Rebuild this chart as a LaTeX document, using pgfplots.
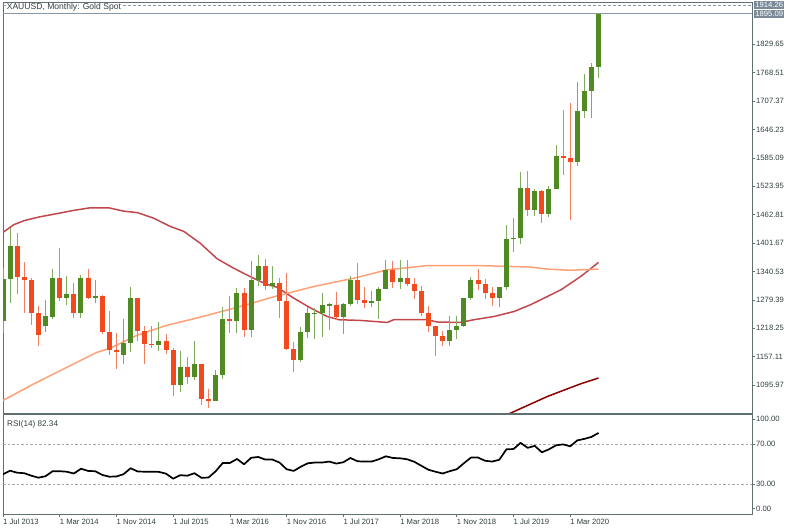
\documentclass[border=0pt]{standalone}
\usepackage{pgfplots}
\pgfplotsset{compat=1.18}
\usepackage{pgfplotstable}
\usepackage{fontspec}
\setmainfont{Liberation Sans}

\definecolor{upbody}{RGB}{79,138,34}
\definecolor{upwick}{RGB}{128,172,96}
\definecolor{dnbody}{RGB}{242,74,30}
\definecolor{dnwick}{RGB}{242,125,95}
\definecolor{maA}{RGB}{192,72,76}
\definecolor{maB}{RGB}{255,160,118}
\definecolor{maC}{RGB}{139,0,0}
\definecolor{frm}{RGB}{96,112,112}
\definecolor{txt}{RGB}{50,62,62}
\definecolor{tag}{RGB}{122,138,155}
\definecolor{pline}{RGB}{136,152,170}

\pgfplotstableread{
i o h l c
0 1234 1347 1208 1324
1 1324 1433 1272 1395
6 1224 1280 1210 1244
7 1242 1346 1238 1327
9 1284 1331 1268 1292
11 1250 1332 1241 1327
13 1283 1323 1273 1287
17 1160 1238 1142 1187
18 1187 1307 1167 1284
22 1183 1232 1170 1190
25 1096 1170 1080 1134
27 1114 1191 1106 1142
30 1061 1128 1061 1118
31 1118 1263 1108 1239
33 1233 1304 1207 1294
35 1215 1362 1200 1322
36 1322 1375 1310 1352
38 1309 1352 1302 1316
42 1150 1220 1146 1211
43 1211 1264 1198 1250
44 1248 1261 1195 1252
45 1251 1295 1200 1269
46 1268 1273 1214 1269
48 1242 1272 1206 1270
49 1270 1331 1266 1323
52 1272 1299 1264 1276
53 1276 1307 1238 1302
54 1302 1366 1302 1344
56 1318 1366 1302 1326
63 1191 1244 1181 1215
64 1215 1244 1195 1223
65 1223 1284 1221 1283
66 1283 1328 1278 1322
70 1283 1307 1265 1307
71 1307 1441 1301 1410
72 1410 1455 1382 1413
73 1413 1555 1400 1520
75 1472 1517 1459 1513
77 1464 1525 1458 1517
78 1517 1612 1517 1589
81 1577 1748 1567 1686
82 1686 1765 1670 1730
83 1730 1789 1670 1781
84 1781 1898 1757 1895
}\candUp

\pgfplotstableread{
i o h l c
2 1395 1424 1292 1328
3 1328 1361 1251 1323
4 1323 1327 1226 1251
5 1251 1267 1181 1204
8 1327 1392 1277 1284
10 1292 1315 1240 1250
12 1327 1345 1281 1283
14 1287 1290 1205 1210
15 1210 1255 1161 1172
16 1172 1208 1131 1167
19 1284 1284 1191 1212
20 1212 1223 1142 1184
21 1184 1224 1175 1183
23 1190 1205 1162 1172
24 1172 1175 1073 1096
26 1134 1157 1098 1114
28 1142 1142 1052 1066
29 1066 1088 1046 1061
32 1239 1287 1208 1233
34 1294 1304 1199 1215
37 1352 1367 1301 1309
39 1316 1326 1241 1276
40 1276 1337 1172 1173
41 1173 1188 1123 1150
47 1269 1296 1236 1242
50 1323 1358 1271 1280
51 1280 1307 1262 1272
55 1344 1362 1305 1318
57 1326 1366 1310 1314
58 1314 1326 1281 1298
59 1298 1310 1244 1252
60 1252 1267 1211 1224
61 1224 1224 1159 1201
62 1201 1213 1179 1191
67 1322 1346 1301 1314
68 1314 1325 1282 1294
69 1294 1308 1267 1283
74 1520 1557 1459 1472
76 1513 1516 1445 1464
79 1589 1689 1548 1585
80 1585 1704 1451 1577
}\candDn

\pgfplotstableread{
i v
0 1424.5
1.5 1441
3 1450
5 1457.5
7.5 1464.7
10 1472
12.3 1477.6
14.9 1477.6
17 1470.4
19 1467
21.2 1455.4
23.6 1437.4
25.5 1426.7
27.8 1401.5
30.2 1367.8
32.5 1347.7
35 1328.3
37 1314
38.7 1306
41 1283
43.4 1261.6
45.7 1243.6
47.4 1236.5
50.4 1235
54.2 1230.7
55.1 1236.5
59.8 1236.5
61.3 1231.5
64.5 1230.7
66.4 1236.5
69.3 1243.6
72.1 1254.4
74.4 1268.8
76.8 1286.7
78.7 1301
81.5 1329.8
84 1360
}\maOne

\pgfplotstableread{
i v
0 1062.8
4.3 1098
9 1134
13.2 1166
15.1 1175
18.9 1203
23 1224
27.8 1242
32.5 1261
34.9 1271
37.7 1284
43.8 1308
49.5 1326
54.2 1344
59.8 1353
67.4 1353
74.4 1350
76.8 1345.5
80 1343
84 1345.5
}\maTwo

\pgfplotstableread{
i v
68 1010
71.6 1035.5
76.8 1071.4
81.5 1098.7
84 1111
}\maThree

\pgfplotstableread{
i v
0 40
1 43.5
2 41.5
3 41
4 38.5
5 36.5
6 38
7 43
8 43
9 42.5
10 40.7
11 45.5
12 43.3
13 43
14 39.3
15 37.5
16 37.7
17 40
18 46
19 42.7
20 42.5
21 42.5
22 42.3
23 40.5
24 35.5
25 39
26 38.5
27 41
28 36.3
29 36.7
30 43
31 51.3
32 51.3
33 55.3
34 50
35 56.5
36 57.3
37 54.7
38 54.7
39 51.7
40 45
41 43.3
42 47.5
43 51
44 51.7
45 51.7
46 52.7
47 50.7
48 52
49 56.3
50 53
51 52.7
52 52.7
53 55
54 58
55 56.3
56 56
57 55
58 52.5
59 48.5
60 44.5
61 42.5
62 40.7
63 43
64 45
65 51
66 56.7
67 56.7
68 53.5
69 52.7
70 54.5
71 65
72 65.3
73 71.5
74 66.5
75 68.5
76 62
77 65
78 69
79 70
80 68
81 74
82 75.5
83 77.5
84 81.5
}\rsi

\pgfplotsset{
  mt/.style={
    scale only axis, width=749bp, xmin=0, xmax=105.64,
    axis line style={frm, line width=0.8bp},
    tick style={frm, line width=0.6bp},
    ticklabel style={font=\fontsize{7.7}{8}\selectfont, text=txt},
    /pgf/number format/assume math mode=true,
    clip mode=individual,
    tick align=outside, major tick length=3bp,
    ytick pos=right, yticklabel pos=right,
  },
  candle/.style 2 args={draw=none, no markers, forget plot,
    error bars/.cd, y dir=both, y explicit, error mark=none,
    error bar style={draw=#1, line width=#2}},
}

\begin{document}
\begin{tikzpicture}
\path[use as bounding box] (0,0) rectangle (800bp,532bp);

\begin{axis}[mt, at={(3bp,530bp)}, anchor=north west, height=411bp,
  ymin=1035.7, ymax=1920.7, xtick=\empty,
  ytick={1095.97,1157.11,1218.25,1279.39,1340.53,1401.67,1462.81,1523.95,1585.09,1646.23,1707.37,1768.51,1829.65},
  yticklabels={1095.97,1157.11,1218.25,1279.39,1340.53,1401.67,1462.81,1523.95,1585.09,1646.23,1707.37,1768.51,1829.65},
  yticklabel style={anchor=west, inner sep=0pt, xshift=1bp}]

\addplot[pline, dash pattern=on 3bp off 2bp, line width=0.8bp, forget plot] coordinates {(0,1914.26) (105.64,1914.26)};
\addplot[pline, line width=0.8bp, forget plot] coordinates {(0,1895.09) (105.64,1895.09)};

\addplot[maA, line width=1.5bp] table[x=i, y=v] {\maOne};
\addplot[maB, line width=1.5bp] table[x=i, y=v] {\maTwo};
\addplot[maC, line width=1.5bp] table[x=i, y=v] {\maThree};

% wicks
\addplot[candle={upwick}{1bp}]
  table[x=i, y expr={(\thisrow{h}+\thisrow{l})/2}, y error expr={(\thisrow{h}-\thisrow{l})/2}] {\candUp};
\addplot[candle={dnwick}{1bp}]
  table[x=i, y expr={(\thisrow{h}+\thisrow{l})/2}, y error expr={(\thisrow{h}-\thisrow{l})/2}] {\candDn};
% bodies
\addplot[candle={upbody}{5bp}]
  table[x=i, y expr={(\thisrow{o}+\thisrow{c})/2}, y error expr={max(abs(\thisrow{c}-\thisrow{o})/2,1.1)}] {\candUp};
\addplot[candle={dnbody}{5bp}]
  table[x=i, y expr={(\thisrow{o}+\thisrow{c})/2}, y error expr={max(abs(\thisrow{c}-\thisrow{o})/2,1.1)}] {\candDn};

\node[anchor=north west, fill=white, inner sep=0.6bp, text=txt, font=\fontsize{8.6}{9}\selectfont]
  at (rel axis cs:0,1) [xshift=3bp, yshift=-0.8bp] {XAUUSD, Monthly: Gold Spot};

\node[anchor=west, fill=tag, text=white, inner sep=1.2bp, minimum height=8.6bp, font=\fontsize{7.7}{8}\selectfont]
  at (axis cs:105.64,1914.26) [xshift=2bp] {1914.26};
\node[anchor=west, fill=tag, text=white, inner sep=1.2bp, minimum height=8.6bp, font=\fontsize{7.7}{8}\selectfont]
  at (axis cs:105.64,1895.09) [xshift=2bp] {1895.09};
\end{axis}

\begin{axis}[mt, at={(3bp,117.5bp)}, anchor=north west, height=99.5bp,
  ymin=0, ymax=100,
  ytick={5.5,30,70,95.5}, yticklabels={0.00,30.00,70.00,100.00},
  yticklabel style={anchor=west, inner sep=0pt, xshift=1bp},
  xtick={0,8,16,24,32,40,48,56,64,72,80},
  xticklabels={1 Jul 2013,1 Mar 2014,1 Nov 2014,1 Jul 2015,1 Mar 2016,1 Nov 2016,1 Jul 2017,1 Mar 2018,1 Nov 2018,1 Jul 2019,1 Mar 2020},
  xtick pos=bottom,
  xticklabel style={anchor=north west, inner sep=0pt, xshift=0bp, yshift=-2bp}]
\addplot[gray!70, dash pattern=on 2.5bp off 2bp, line width=0.6bp, forget plot] coordinates {(0,70) (105.64,70)};
\addplot[gray!70, dash pattern=on 2.5bp off 2bp, line width=0.6bp, forget plot] coordinates {(0,30) (105.64,30)};
\addplot[black, line width=1.7bp, line join=round] table[x=i, y=v] {\rsi};
\node[anchor=north west, inner sep=0pt, text=txt, font=\fontsize{8.2}{9}\selectfont]
  at (rel axis cs:0,1) [xshift=4bp, yshift=-6bp] {RSI(14) 82.34};
\end{axis}
\end{tikzpicture}
\end{document}
